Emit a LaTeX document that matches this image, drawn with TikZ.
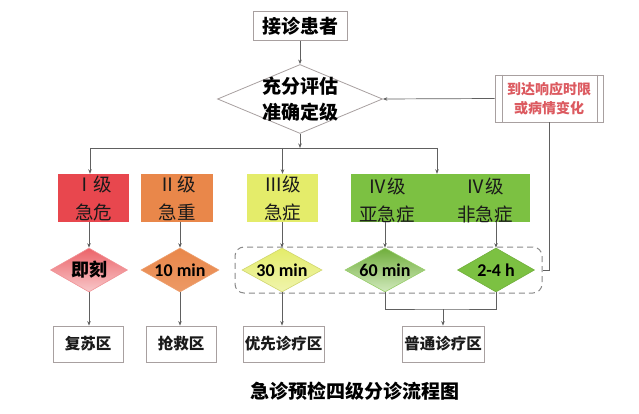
\documentclass[tikz,border=0pt]{standalone}
\usepackage{fontspec}
\newfontfamily\cjk{Noto Sans CJK SC}
\newfontfamily\carl{Carlito}
\usetikzlibrary{shapes.geometric,arrows.meta,calc}
\definecolor{boxgray}{HTML}{A8A0A0}
\definecolor{linegray}{HTML}{606060}
\definecolor{dashgray}{HTML}{8A8A8A}
\definecolor{fbred}{HTML}{DC5A60}
\definecolor{lvA}{HTML}{E8474E}
\definecolor{lvB}{HTML}{E9874A}
\definecolor{lvC}{HTML}{E4EC6A}
\definecolor{lvD}{HTML}{7CC142}
\definecolor{txtdark}{HTML}{1A1A1A}
\begin{document}
\begin{tikzpicture}[x=1pt,y=-1pt,
  box/.style={draw=boxgray, line width=0.8pt, fill=white, inner sep=0pt, align=center},
  zonebox/.style={box, minimum height=36pt, text=txtdark, font=\cjk\bfseries\fontsize{15.5}{15.5}\selectfont},
  lvl/.style={inner sep=0pt, minimum height=48pt, align=center, text=txtdark, font=\cjk\fontsize{18.5}{28}\selectfont},
  lvtext/.style={inner sep=0pt, align=center, text=txtdark, font=\cjk\fontsize{18.5}{28}\selectfont},
  dia/.style={diamond, inner sep=0pt, minimum height=44pt, line width=0.6pt},
  dtext/.style={inner sep=0pt, text=black, font=\cjk\bfseries\fontsize{18}{18}\selectfont},
  ttext/.style={inner sep=0pt, text=black, font=\carl\bfseries\fontsize{18}{18}\selectfont},
  conn/.style={draw=linegray, line width=0.7pt},
  arr/.style={conn, -{Stealth[length=4.5pt,width=3.5pt]}},
]
\useasboundingbox (0,0) rectangle (639,414);
\fill[white] (0,0) rectangle (639,414);

% top
\node[box, minimum width=94pt, minimum height=29pt, font=\cjk\bfseries\fontsize{19}{19}\selectfont] (start) at (300,26) {接诊患者};
\node[diamond, draw=boxgray, line width=0.8pt, fill=white, inner sep=0pt, minimum width=165pt, minimum height=69pt] (eval) at (300,99) {};
\node[inner sep=0pt, align=center, font=\cjk\bfseries\fontsize{19}{26}\selectfont] (evaltext) at (eval) {充分评估\\准确定级};
\node[box, minimum width=108pt, minimum height=47pt, text=fbred, font=\cjk\bfseries\fontsize{14}{19}\selectfont] (fb) at (549,98.5) {到达响应时限\\或病情变化};
\draw[boxgray, line width=0.8pt] ([xshift=8pt]fb.north west) -- ([xshift=8pt]fb.south west);
\draw[boxgray, line width=0.8pt] ([xshift=-6pt]fb.north east) -- ([xshift=-6pt]fb.south east);

% level boxes
\node[lvl, fill=lvA, minimum width=71pt] (l1) at (93.5,198) {Ⅰ级\\急危};
\node[lvl, fill=lvB, minimum width=72pt] (l2) at (177,198) {Ⅱ级\\急重};
\node[lvl, fill=lvC, minimum width=71pt] (l3) at (282.5,198) {Ⅲ级\\急症};
\node[lvl, fill=lvD, minimum width=179pt] (l4) at (440.5,198) {};
\node[lvtext] (l4a) at (387,200) {Ⅳ级\\亚急症};
\node[lvtext] (l4b) at (485,200) {Ⅳ级\\非急症};

% dashed zone
\node[draw=dashgray, line width=1pt, dash pattern=on 6pt off 4pt, rounded corners=9pt, minimum width=307pt, minimum height=46pt, inner sep=0pt] (zone) at (388.5,270) {};

% time diamonds
\node[dia, minimum width=77pt, top color=lvA!85!white, bottom color=lvA!30!white, draw=lvA!60!white] (d1) at (89,270) {};
\node[dtext] (d1t) at (d1) {即刻};
\node[dia, minimum width=78pt, top color=lvB, bottom color=lvB!85!white, draw=lvB!80!white] (d2) at (180,270) {};
\node[ttext] (d2t) at (d2) {10 min};
\node[dia, minimum width=80pt, top color=lvC, bottom color=lvC!55!white, draw=lvC!80!gray] (d3) at (282,270) {};
\node[ttext] (d3t) at (d3) {30 min};
\node[dia, minimum width=80pt, top color=lvD!90!black, bottom color=lvD!35!white, draw=lvD!80!white] (d4) at (385,270) {};
\node[ttext] (d4t) at (d4) {60 min};
\node[dia, minimum width=77pt, fill=lvD, draw=lvD!90!black] (d5) at (496,270) {};
\node[ttext] (d5t) at (d5) {2-4 h};

% zones
\node[zonebox, minimum width=70pt] (z1) at (88,344) {复苏区};
\node[zonebox, minimum width=70pt] (z2) at (181,344) {抢救区};
\node[zonebox, minimum width=81pt] (z3) at (283.5,344) {优先诊疗区};
\node[zonebox, minimum width=82pt] (z4) at (443,344) {普通诊疗区};

% title
\node[inner sep=0pt, font=\cjk\bfseries\fontsize{19}{19}\selectfont] (title) at (355,391) {急诊预检四级分诊流程图};

% connectors
\coordinate (jun) at (300,148);
\coordinate (hl) at (90,148);
\coordinate (hr) at (437,148);
\draw[arr] (start) -- (eval);
\draw[arr] (eval.south) -- (jun);
\draw[conn] (hl) -- (hr);
\draw[arr] (hl) -- (hl |- l1.north);
\draw[arr] (jun -| l3) -- (l3.north);
\draw[arr] (hr) -- (hr |- l4.north);

\draw[arr] (l1.south -| d1) -- (d1.north);
\draw[arr] (l2.south -| d2) -- (d2.north);
\draw[arr] (l3.south -| d3) -- (d3.north);
\draw[arr] (l4.south -| d4) -- (d4.north);
\draw[arr] (l4.south -| d5) -- (d5.north);

\draw[arr] (d1.south) -- (d1.south |- z1.north);
\draw[arr] (d2.south) -- (d2.south |- z2.north);
\draw[arr] (d3.south) -- (d3.south |- z3.north);
\coordinate (bj) at (443,309);
\draw[conn] (d4.south) |- (bj) -| (d5.south);
\draw[arr] (bj) -- (z4.north);

\draw[arr] (fb.west) -- (eval.east);
\draw[conn] (fb.south) |- (zone.east);
\end{tikzpicture}
\end{document}
